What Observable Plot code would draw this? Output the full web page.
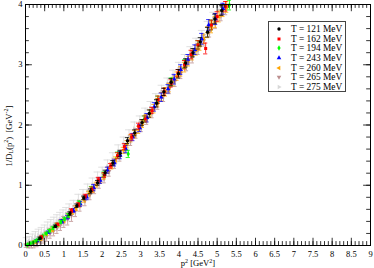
<!DOCTYPE html>
<html><head><meta charset="utf-8">
<script src="https://cdn.jsdelivr.net/npm/d3@7"></script>
<script src="https://cdn.jsdelivr.net/npm/@observablehq/plot@0.6"></script>
<style>
body{margin:0;background:#fff;}
#wrap{position:relative;width:374px;height:268px;font-family:"Liberation Serif","Times New Roman",serif;}
#legend{position:absolute;left:268px;top:21px;width:76px;height:69px;border:1px solid #444;background:#fff;}
.row{position:absolute;left:0;height:10px;font-size:9.4px;line-height:10px;white-space:nowrap;color:#000;}
.row svg{position:absolute;left:6px;top:1px;}
.row span{position:absolute;left:22px;top:0;}
</style></head><body><div id="wrap"></div>
<script>
// ---- data ----
const seriesNames = ["T = 121 MeV","T = 162 MeV","T = 194 MeV","T = 243 MeV","T = 260 MeV","T = 265 MeV","T = 275 MeV"];
const seriesColors = ["#000000","#ff0000","#00ff00","#0000ff","#ffa500","#bc8f8f","#d8d8d8"];

const x121 = [0.38,0.78,1.16,1.34,1.52,1.70,1.88,2.08,2.28,2.47,2.66,2.85,3.04,3.23,3.42,3.61,3.80,3.99,4.18,4.37,4.56,4.75,4.94,5.12];
const y121 = [0.12,0.32,0.53,0.66,0.79,0.90,1.04,1.21,1.37,1.53,1.74,1.87,2.04,2.19,2.36,2.55,2.71,2.85,3.03,3.20,3.38,3.54,3.76,3.90];
const e121 = [0.02,0.02,0.03,0.03,0.03,0.04,0.04,0.04,0.04,0.05,0.05,0.05,0.05,0.06,0.06,0.06,0.06,0.07,0.07,0.07,0.07,0.08,0.08,0.08];

const x162 = [0.42,0.84,1.20,1.38,1.56,1.73,1.90,2.06,2.22,2.40,2.58,2.77,2.95,3.12,3.30,3.46,3.62,3.80,3.98,4.15,4.32,4.50,4.70,4.85,5.00,5.22];
const y162 = [0.14,0.35,0.58,0.68,0.82,0.93,1.09,1.17,1.32,1.49,1.64,1.80,1.98,2.10,2.24,2.42,2.55,2.69,2.86,3.00,3.17,3.33,3.27,3.66,3.80,3.97];
const e162 = [0.02,0.02,0.03,0.03,0.03,0.04,0.04,0.04,0.04,0.05,0.05,0.05,0.05,0.05,0.05,0.06,0.06,0.06,0.06,0.07,0.07,0.07,0.09,0.08,0.08,0.08];

const x194 = [0.05,0.12,0.20,0.28,0.36,0.45,0.54,0.63,0.72,0.82,0.92,1.02,1.12,1.40,1.72,2.05,2.40,2.68,3.10,3.45,3.80,4.15,4.50,4.85,5.32];
const y194 = [0.01,0.03,0.05,0.08,0.11,0.155,0.20,0.245,0.29,0.34,0.39,0.44,0.50,0.71,0.94,1.18,1.50,1.52,2.10,2.42,2.72,3.01,3.33,3.66,3.99];
const e194 = [0.01,0.01,0.01,0.01,0.01,0.01,0.01,0.02,0.02,0.02,0.02,0.02,0.03,0.03,0.04,0.04,0.05,0.06,0.05,0.06,0.06,0.07,0.07,0.08,0.08];

const x243 = [0.30,0.60,0.95,1.10,1.25,1.43,1.60,1.78,1.95,2.14,2.32,2.47,2.62,2.80,2.98,3.17,3.36,3.54,3.72,3.88,4.05,4.24,4.42,4.60,4.78,4.96,5.15];
const y243 = [0.08,0.22,0.40,0.47,0.58,0.69,0.80,0.96,1.08,1.25,1.37,1.50,1.60,1.80,1.95,2.12,2.30,2.46,2.60,2.76,2.92,3.09,3.25,3.43,3.66,3.76,3.93];
const e243 = [0.02,0.02,0.03,0.03,0.03,0.04,0.04,0.05,0.05,0.05,0.05,0.06,0.06,0.06,0.06,0.07,0.07,0.07,0.07,0.08,0.08,0.08,0.08,0.09,0.09,0.09,0.09];

const x260 = [0.25,0.40,0.55,0.70,0.85,1.00,1.12,1.22,1.32,1.42,1.53,1.65,1.75,1.85,1.95,2.05,2.15,2.25,2.35,2.45,2.55,2.65,2.75,2.85,2.95,3.05,3.15,3.25,3.35,3.45,3.55,3.65,3.75,3.85,3.95,4.05,4.15,4.25,4.35,4.45,4.55,4.65,4.75,4.85,4.95,5.05,5.15,5.25];
const y260 = [0.06,0.11,0.19,0.26,0.34,0.41,0.48,0.55,0.62,0.68,0.76,0.86,0.92,1.01,1.08,1.15,1.25,1.32,1.42,1.50,1.58,1.68,1.78,1.85,1.92,2.02,2.11,2.19,2.27,2.37,2.47,2.55,2.62,2.72,2.81,2.89,2.96,3.06,3.16,3.24,3.32,3.43,3.54,3.62,3.71,3.80,3.89,3.96];
const e260 = [0.02,0.02,0.02,0.03,0.03,0.03,0.03,0.03,0.04,0.04,0.04,0.04,0.04,0.04,0.05,0.05,0.05,0.05,0.05,0.05,0.05,0.06,0.06,0.06,0.06,0.06,0.06,0.06,0.07,0.07,0.07,0.07,0.07,0.07,0.07,0.08,0.08,0.08,0.08,0.08,0.08,0.08,0.09,0.09,0.09,0.09,0.09,0.09];

const x265 = [0.02,0.08,0.15,0.22,0.30,0.38,0.46,0.55,0.64,0.73,0.82,0.91,1.00,1.10,1.20,1.30,1.42,1.55,1.68,1.80,1.92,2.05,2.18,2.32,2.46,2.60,2.74,2.88,3.02,3.16,3.30,3.45,3.60,3.75,3.90,4.05,4.20,4.35,4.50,4.65,4.80,4.95,5.10,5.22];
const y265 = [0.00,0.00,0.01,0.02,0.04,0.07,0.11,0.15,0.20,0.24,0.29,0.34,0.39,0.44,0.50,0.57,0.66,0.74,0.84,0.94,1.03,1.12,1.23,1.36,1.48,1.61,1.74,1.86,1.97,2.09,2.21,2.35,2.48,2.61,2.73,2.86,2.99,3.12,3.26,3.40,3.55,3.69,3.82,3.92];
const e265 = [0.03,0.04,0.05,0.06,0.06,0.07,0.07,0.08,0.08,0.08,0.09,0.09,0.09,0.10,0.10,0.09,0.09,0.08,0.08,0.08,0.08,0.08,0.08,0.08,0.08,0.08,0.08,0.08,0.08,0.08,0.09,0.09,0.09,0.09,0.09,0.09,0.09,0.09,0.09,0.09,0.09,0.09,0.09,0.09];

const x275 = [0.03,0.10,0.18,0.26,0.34,0.42,0.50,0.58,0.66,0.74,0.82,0.90,0.98,1.06,1.14,1.25,1.38,1.50,1.62,1.75,1.88,2.00,2.14,2.28,2.42,2.56,2.70,2.84,2.98,3.12,3.26,3.40,3.55,3.70,3.85,4.00,4.15,4.30,4.45,4.60,4.75,4.90,5.05];
const y275 = [0.07,0.08,0.11,0.14,0.17,0.20,0.24,0.28,0.32,0.36,0.40,0.44,0.48,0.52,0.58,0.64,0.74,0.82,0.91,1.01,1.11,1.19,1.31,1.43,1.56,1.69,1.81,1.94,2.04,2.17,2.28,2.41,2.55,2.67,2.80,2.93,3.06,3.19,3.33,3.46,3.61,3.76,3.89];
const e275 = [0.06,0.07,0.08,0.09,0.10,0.10,0.10,0.11,0.11,0.11,0.11,0.11,0.11,0.11,0.11,0.11,0.11,0.11,0.11,0.11,0.11,0.11,0.11,0.11,0.11,0.11,0.11,0.11,0.11,0.11,0.11,0.11,0.11,0.11,0.11,0.11,0.11,0.11,0.11,0.11,0.11,0.11,0.11];

const xTickLabels = [0,0.5,1,1.5,2,2.5,3,3.5,4,4.5,5,5.5,6,6.5,7,7.5,8,8.5,9];
const yTickLabels = [0,1,2,3,4];

// ---- symbols ----
function tri(angle){
  return {draw(ctx,size){
    const y=-Math.sqrt(size/(Math.sqrt(3)*3));
    const pts=[[0,y*2],[-Math.sqrt(3)*y,-y],[Math.sqrt(3)*y,-y]];
    const c=Math.cos(angle), s=Math.sin(angle);
    pts.forEach(([px,py],i)=>{const X=px*c-py*s, Y=px*s+py*c; i?ctx.lineTo(X,Y):ctx.moveTo(X,Y);});
    ctx.closePath();
  }};
}
const symbols = [d3.symbolCircle, d3.symbolSquare, d3.symbolDiamond, tri(0), tri(-Math.PI/2), tri(Math.PI), tri(Math.PI/2)];

const xs=[x121,x162,x194,x243,x260,x265,x275], ys=[y121,y162,y194,y243,y260,y265,y275], es=[e121,e162,e194,e243,e260,e265,e275];
const series = seriesNames.map((name,i)=>({
  name, color: seriesColors[i], symbol: symbols[i],
  rows: xs[i].map((x,j)=>({x, y: ys[i][j], e: es[i][j]}))
}));

const xMinor = d3.range(0, 9.0001, 0.1);
const yMinor = d3.range(0, 4.0001, 0.2);

const marks = [];
// draw order: 275 first ... 121 last (on top)
for (let i = series.length-1; i >= 0; i--) {
  const s = series[i];
  const cap = i === 6 ? 0.09 : 0.055;
  marks.push(
    Plot.ruleX(s.rows, {x:"x", y1:d=>d.y-d.e, y2:d=>d.y+d.e, stroke:s.color, strokeWidth:0.8}),
    Plot.ruleY(s.rows, {y:d=>d.y+d.e, x1:d=>d.x-cap, x2:d=>d.x+cap, stroke:s.color, strokeWidth:0.8}),
    Plot.ruleY(s.rows, {y:d=>d.y-d.e, x1:d=>d.x-cap, x2:d=>d.x+cap, stroke:s.color, strokeWidth:0.8}),
    Plot.dot(s.rows, {x:"x", y:"y", symbol:s.symbol, r:1.7, fill:s.color, stroke:"none"})
  );
}
// inward ticks (mirrored on all four sides)
const tyMaj=0.12, tyMin=0.065, txMaj=0.18, txMin=0.10;
marks.push(
  Plot.ruleX(xMinor, {x:d=>d, y1:0, y2:tyMin, stroke:"#000", strokeWidth:0.8}),
  Plot.ruleX(xMinor, {x:d=>d, y1:4-tyMin, y2:4, stroke:"#000", strokeWidth:0.8}),
  Plot.ruleX(xTickLabels, {x:d=>d, y1:0, y2:tyMaj, stroke:"#000", strokeWidth:0.8}),
  Plot.ruleX(xTickLabels, {x:d=>d, y1:4-tyMaj, y2:4, stroke:"#000", strokeWidth:0.8}),
  Plot.ruleY(yMinor, {y:d=>d, x1:0, x2:txMin, stroke:"#000", strokeWidth:0.8}),
  Plot.ruleY(yMinor, {y:d=>d, x1:9-txMin, x2:9, stroke:"#000", strokeWidth:0.8}),
  Plot.ruleY(yTickLabels, {y:d=>d, x1:0, x2:txMaj, stroke:"#000", strokeWidth:0.8}),
  Plot.ruleY(yTickLabels, {y:d=>d, x1:9-txMaj, x2:9, stroke:"#000", strokeWidth:0.8}),
  Plot.frame({stroke:"#000", strokeWidth:1}),
  Plot.axisX(xTickLabels, {tickSize:0, tickPadding:5, label:null, tickFormat:d=>String(d)}),
  Plot.axisY(yTickLabels, {tickSize:0, tickPadding:3, label:null, tickFormat:d=>String(d)})
);

const chart = Plot.plot({
  width:374, height:268,
  marginLeft:25, marginRight:4, marginTop:4, marginBottom:23,
  x:{domain:[0,9]}, y:{domain:[0,4]},
  style:{fontFamily:'"Liberation Serif","Times New Roman",serif', fontSize:"8.5px", color:"#000", background:"#fff"},
  marks
});
const wrap = document.getElementById("wrap");
wrap.appendChild(chart);

// axis titles
const svg = d3.select(chart);
const yl = svg.append("text")
  .attr("transform","translate(10,136) rotate(-90)")
  .attr("text-anchor","middle").attr("dominant-baseline","middle")
  .attr("font-size","8.6px").attr("fill","#000");
yl.append("tspan").text("1/D");
yl.append("tspan").attr("font-size","6px").attr("dy","2").text("L");
yl.append("tspan").attr("dy","-2").text("(p");
yl.append("tspan").attr("font-size","6px").attr("dy","-3").text("2");
yl.append("tspan").attr("dy","3").text(")  [GeV");
yl.append("tspan").attr("font-size","6px").attr("dy","-3").text("-2");
yl.append("tspan").attr("dy","3").text("]");

const xl = svg.append("text")
  .attr("x",198).attr("y",266)
  .attr("text-anchor","middle").attr("font-size","8.6px").attr("fill","#000");
xl.append("tspan").text("p");
xl.append("tspan").attr("font-size","6px").attr("dy","-3").text("2");
xl.append("tspan").attr("dy","3").text(" [GeV");
xl.append("tspan").attr("font-size","6px").attr("dy","-3").text("2");
xl.append("tspan").attr("dy","3").text("]");

// legend
const lg = document.createElement("div");
lg.id = "legend";
series.forEach((s,i)=>{
  const row = document.createElement("div");
  row.className = "row";
  row.style.top = (2 + i*9.67) + "px";
  row.style.width = "76px";
  const ms = d3.create("svg").attr("width",8).attr("height",8);
  ms.append("path").attr("transform","translate(4,4)")
    .attr("d", d3.symbol(s.symbol, Math.PI*1.7*1.7)()).attr("fill", s.color);
  row.appendChild(ms.node());
  const sp = document.createElement("span");
  sp.textContent = s.name;
  row.appendChild(sp);
  lg.appendChild(row);
});
wrap.appendChild(lg);
</script></body></html>
